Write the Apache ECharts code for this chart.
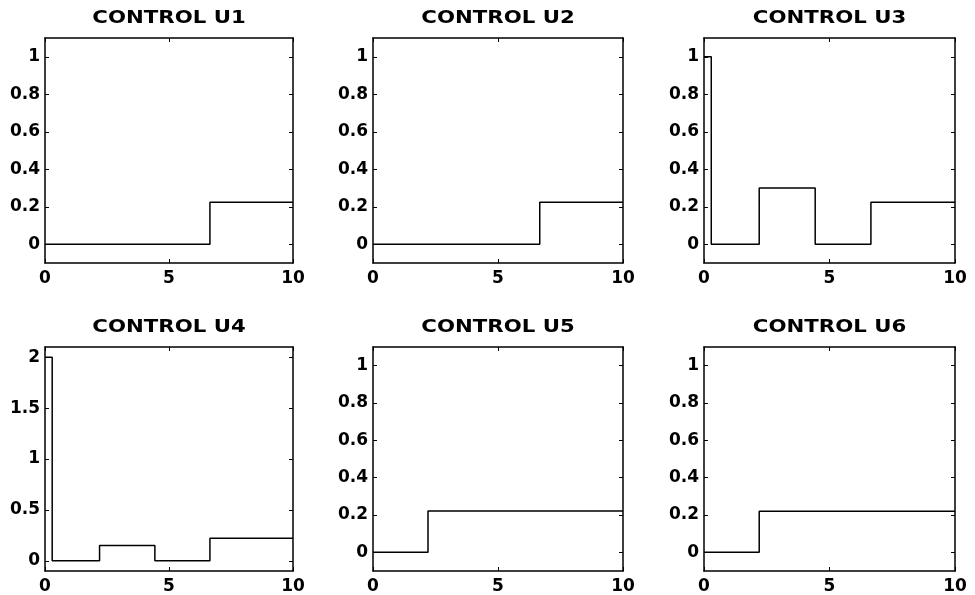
<!DOCTYPE html>
<html>
<head>
<meta charset="utf-8">
<script src="https://cdn.jsdelivr.net/npm/echarts@6/dist/echarts.min.js"></script>
<style>
html,body{margin:0;padding:0;background:#fff;}
#chart{width:975px;height:595px;}
</style>
</head>
<body>
<div id="chart"></div>
<script>
// ---- data ----
const titles = ['CONTROL U1', 'CONTROL U2', 'CONTROL U3', 'CONTROL U4', 'CONTROL U5', 'CONTROL U6'];
const xTicks = [0, 5, 10];
const yTicks = [0, 0.2, 0.4, 0.6, 0.8, 1];
const yTicksU4 = [0, 0.5, 1, 1.5, 2];

const u1Time = [0, 6.65, 10];
const u1Val  = [0, 0.224, 0.224];
const u2Time = [0, 6.67, 10];
const u2Val  = [0, 0.224, 0.224];
const u3Time = [0, 0.29, 2.2, 4.43, 6.65, 10];
const u3Val  = [1, 0, 0.3, 0, 0.224, 0.224];
const u4Time = [0, 0.29, 2.2, 4.43, 6.65, 10];
const u4Val  = [2, 0, 0.15, 0, 0.222, 0.222];
const u5Time = [0, 2.2, 10];
const u5Val  = [0, 0.222, 0.222];
const u6Time = [0, 2.2, 10];
const u6Val  = [0, 0.22, 0.22];

const times = [u1Time, u2Time, u3Time, u4Time, u5Time, u6Time];
const vals  = [u1Val, u2Val, u3Val, u4Val, u5Val, u6Val];

// ---- layout ----
const cols = [[45, 248], [373, 250], [704, 251]];
const rows = [[38, 225], [347, 224]];
const titleY = [19, 328];

const FONT = 'DejaVu Sans';
const grids = [], xAxes = [], yAxes = [], series = [], graphics = [];

for (let i = 0; i < 6; i++) {
  const r = Math.floor(i / 3), c = i % 3;
  grids.push({left: cols[c][0], top: rows[r][0], width: cols[c][1], height: rows[r][1],
    show: false, containLabel: false});
  const isU4 = i === 3;
  const yMin = -0.1, yMax = isU4 ? 2.1 : 1.1;
  const yt = isU4 ? yTicksU4 : yTicks;
  const lineStyle = {color: '#000', width: 1.5};
  const tickStyle = {color: '#000', width: 1};
  const labelStyle = {color: '#000', fontFamily: FONT, fontWeight: 'bold', fontSize: 17};
  // bottom x
  xAxes.push({gridIndex: i, type: 'value', min: 0, max: 10, position: 'bottom',
    axisLine: {show: true, onZero: false, lineStyle},
    axisTick: {show: true, inside: true, length: 4, customValues: xTicks, lineStyle: tickStyle},
    axisLabel: Object.assign({show: true, customValues: xTicks, margin: 7}, labelStyle),
    splitLine: {show: false}});
  // top x
  xAxes.push({gridIndex: i, type: 'value', min: 0, max: 10, position: 'top',
    axisLine: {show: true, onZero: false, lineStyle},
    axisTick: {show: true, inside: true, length: 4, customValues: xTicks, lineStyle: tickStyle},
    axisLabel: {show: false}, splitLine: {show: false}});
  // left y
  yAxes.push({gridIndex: i, type: 'value', min: yMin, max: yMax, position: 'left',
    axisLine: {show: true, onZero: false, lineStyle},
    axisTick: {show: true, inside: true, length: 4, customValues: yt, lineStyle: tickStyle},
    axisLabel: Object.assign({show: true, customValues: yt, margin: 5}, labelStyle),
    splitLine: {show: false}});
  // right y
  yAxes.push({gridIndex: i, type: 'value', min: yMin, max: yMax, position: 'right',
    axisLine: {show: true, onZero: false, lineStyle},
    axisTick: {show: true, inside: true, length: 4, customValues: yt, lineStyle: tickStyle},
    axisLabel: {show: false}, splitLine: {show: false}});

  series.push({type: 'line', xAxisIndex: 2 * i, yAxisIndex: 2 * i, step: 'end',
    symbol: 'none', silent: true, animation: false,
    lineStyle: {color: '#000', width: 1.5},
    data: times[i].map((t, k) => [t, vals[i][k]])});

  graphics.push({type: 'text', x: cols[c][0] + cols[c][1] / 2, y: titleY[r], scaleX: 1.25,
    style: {text: titles[i], fill: '#000', font: 'bold 17px "' + FONT + '"',
      fontFamily: FONT, fontSize: 17, fontWeight: 'bold',
      align: 'center', verticalAlign: 'middle', textAlign: 'center', textVerticalAlign: 'middle'}});
}

const chart = echarts.init(document.getElementById('chart'), null, {renderer: 'canvas'});
chart.setOption({
  animation: false,
  backgroundColor: '#fff',
  grid: grids, xAxis: xAxes, yAxis: yAxes, series: series, graphic: graphics
});
</script>
</body>
</html>
